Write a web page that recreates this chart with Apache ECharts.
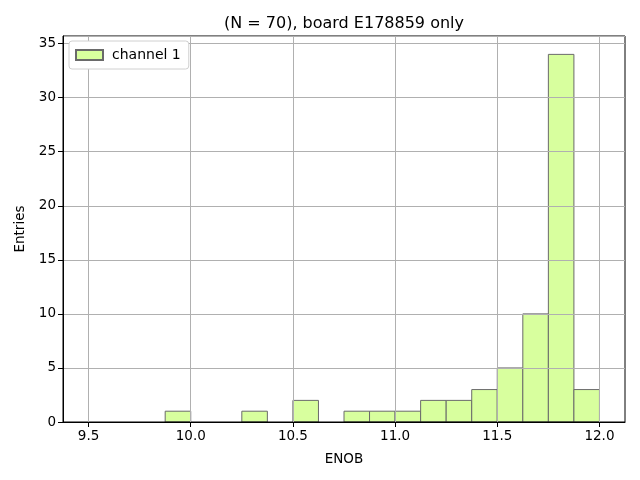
<!DOCTYPE html>
<html>
<head>
<meta charset="utf-8">
<script src="https://cdn.jsdelivr.net/npm/echarts@6/dist/echarts.min.js"></script>
<style>html,body{margin:0;padding:0;background:#fff;}#c{width:640px;height:480px;}</style>
</head>
<body>
<div id="c"></div>
<script>
var binStarts = [9.5, 9.625, 9.75, 9.875, 10.0, 10.125, 10.25, 10.375, 10.5, 10.625, 10.75, 10.875, 11.0, 11.125, 11.25, 11.375, 11.5, 11.625, 11.75, 11.875];
var binWidth = 0.125;
var counts = [0, 0, 0, 1, 0, 0, 1, 0, 2, 0, 1, 1, 1, 2, 2, 3, 5, 10, 34, 3];
var xTicks = [9.5, 10.0, 10.5, 11.0, 11.5, 12.0];
var seriesName = 'channel 1';
var titleText = '(N = 70), board E178859 only';

var data = [];
for (var i = 0; i < counts.length; i++) {
  if (counts[i] > 0) data.push([binStarts[i], binStarts[i] + binWidth, counts[i]]);
}
var font = 'DejaVu Sans';
var chart = echarts.init(document.getElementById('c'), null, {renderer: 'canvas'});
chart.setOption({
  animation: false,
  backgroundColor: '#fff',
  textStyle: {fontFamily: font},
  title: {
    text: titleText, left: 219, top: 11,
    textStyle: {fontFamily: font, fontSize: 16, fontWeight: 'normal', color: '#000'}
  },
  legend: {
    left: 69, top: 41,
    data: [seriesName],
    icon: 'rect', itemWidth: 27, itemHeight: 10, itemGap: 5,
    padding: [7, 8, 7, 6],
    backgroundColor: '#fff',
    borderColor: '#d0d0d0', borderWidth: 1, borderRadius: 3,
    textStyle: {fontFamily: font, fontSize: 14, color: '#000', padding: [0,0,0,4]}
  },
  grid: {left: 63, right: 15, top: 36, bottom: 58, show: true, borderColor: '#000', borderWidth: 1, containLabel: false},
  xAxis: {
    type: 'value', min: 9.375, max: 12.125,
    name: 'ENOB', nameLocation: 'middle', nameGap: 30,
    nameTextStyle: {fontFamily: font, fontSize: 13.5, color: '#000'},
    axisLine: {show: true, onZero: false, lineStyle: {color: '#000', width: 1}},
    axisTick: {show: true, length: 5, lineStyle: {color: '#000'}, customValues: xTicks},
    axisLabel: {fontFamily: font, fontSize: 13.5, color: '#000', margin: 7, customValues: xTicks,
      formatter: function (v) { return v.toFixed(1); }},
    splitLine: {show: true, lineStyle: {color: '#b0b0b0', width: 1}}
  },
  yAxis: {
    type: 'value', min: 0, max: 35.7, interval: 5,
    name: 'Entries', nameLocation: 'middle', nameGap: 34, nameRotate: 90,
    nameTextStyle: {fontFamily: font, fontSize: 13.5, color: '#000'},
    axisLine: {show: true, lineStyle: {color: '#000', width: 1}},
    axisTick: {show: true, length: 5, lineStyle: {color: '#000'}},
    axisLabel: {fontFamily: font, fontSize: 13.5, color: '#000', margin: 7,
      showMaxLabel: false},
    splitLine: {show: true, lineStyle: {color: '#b0b0b0', width: 1}}
  },
  series: [{
    name: seriesName,
    type: 'custom',
    z: -1,
    itemStyle: {color: '#d8ff9e', borderColor: '#6a6a6a', borderWidth: 1},
    encode: {x: [0, 1], y: 2},
    data: data,
    renderItem: function (params, api) {
      var p0 = api.coord([api.value(0), api.value(2)]);
      var p1 = api.coord([api.value(1), 0]);
      return {
        type: 'rect',
        shape: {x: p0[0], y: p0[1], width: p1[0] - p0[0], height: p1[1] - p0[1]},
        style: {fill: '#d8ff9e', stroke: '#6a6a6a', lineWidth: 1}
      };
    }
  }]
});
</script>
</body>
</html>
